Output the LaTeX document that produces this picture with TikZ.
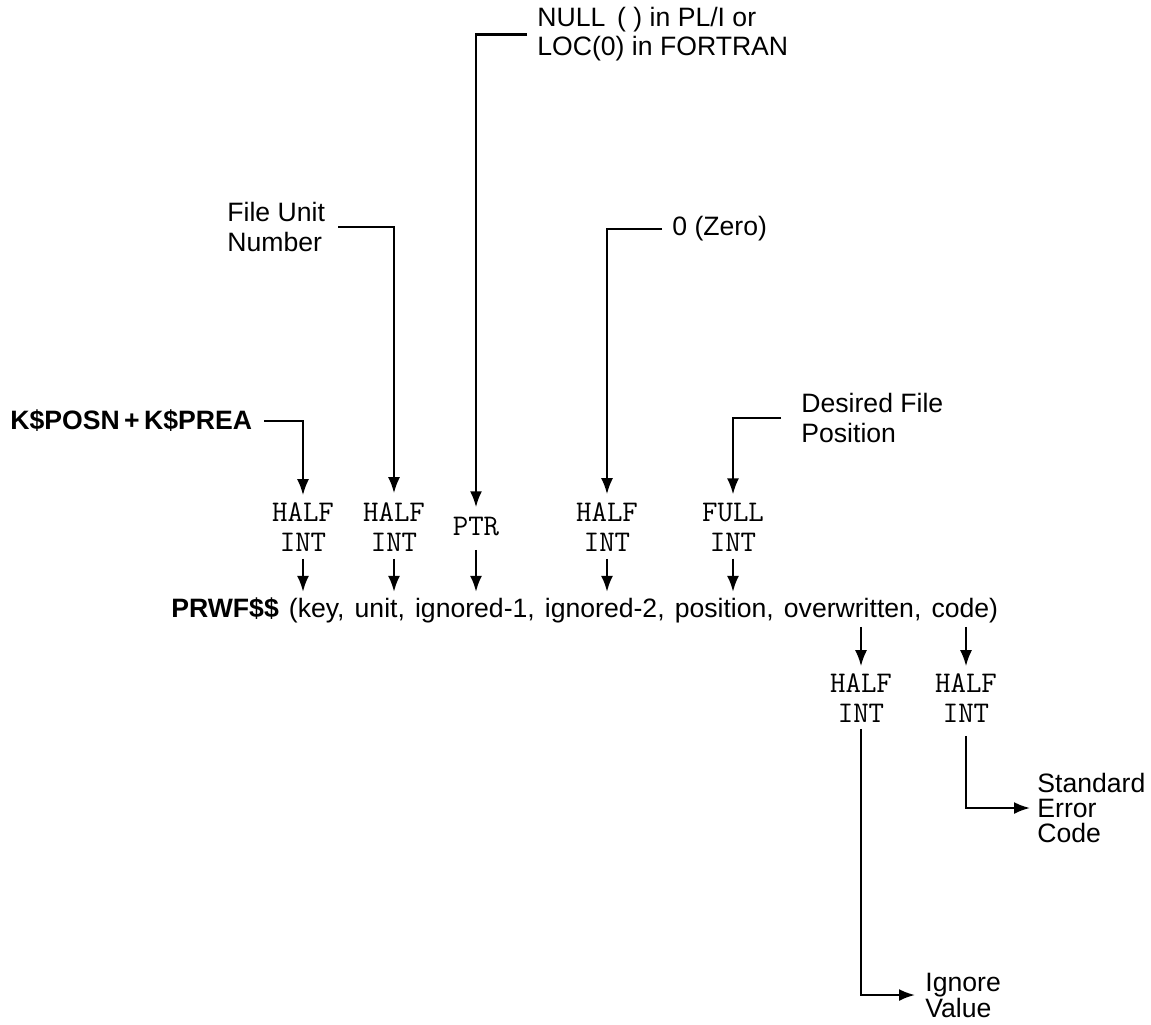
\documentclass[tikz,border=0pt]{standalone}
\usepackage{fontspec}
\setmainfont{Liberation Sans}
\usetikzlibrary{arrows.meta}
\begin{document}
\begin{tikzpicture}[x=0.5pt,y=-0.5pt,
  sans/.style={inner sep=0pt, align=left, font=\fontsize{13.3}{15}\selectfont},
  tt/.style={inner sep=0pt, align=center, font=\ttfamily\fontsize{15}{15}\selectfont},
  link/.style={line width=1.1pt, -{Latex[length=8pt,width=6pt]}},
  small/.style={link, shorten <=3.5pt, shorten >=2.5pt}]
\useasboundingbox (0,0) rectangle (1151,1024);
% labels above
\node[sans, anchor=base west] (kp) at (10,429.5) {\bfseries K\$POSN\,+\,K\$PREA};
\node[sans, anchor=west] (fun) at (227,227) {File Unit\\Number};
\node[sans, anchor=west, font=\fontsize{13.3}{14.5}\selectfont] (nul) at (537,34.5) {NULL \,( ) in PL/I or\\LOC(0) in FORTRAN};
\node[sans, anchor=west] (zer) at (672,229) {0 (Zero)};
\node[sans, anchor=west] (des) at (801,418) {Desired File\\Position};
% type nodes
\node[tt] (h1) at (303,527) {HALF\\INT};
\node[tt] (h2) at (394,527) {HALF\\INT};
\node[tt] (p3) at (476,527) {PTR};
\node[tt] (h4) at (607,527) {HALF\\INT};
\node[tt] (f5) at (733,527) {FULL\\INT};
% main call
\node[sans, anchor=base west] (m) at (171,617) {\spaceskip=0.38em\textbf{PRWF\$\$} (key, unit, ignored-1, ignored-2, position, overwritten, code)};
% outputs
\node[tt] (o6) at (861,698) {HALF\\INT};
\node[tt] (o7) at (966,698) {HALF\\INT};
\node[sans, anchor=west, font=\fontsize{13.3}{12.5}\selectfont] (std) at (1037,808) {Standard\\Error\\Code};
\node[sans, anchor=west, font=\fontsize{13.3}{13}\selectfont] (ign) at (925,995) {Ignore\\Value};
% input connectors
\draw[link, shorten <=6pt, shorten >=3.5pt] (kp.east) -| (h1.north);
\draw[link, shorten <=6.5pt, shorten >=4.5pt] (fun.east) -| (h2.north);
\draw[link, shorten <=5pt, shorten >=5pt] (nul.west) -| (p3.north);
\draw[link, shorten <=5pt, shorten >=4pt] (zer.west) -| (h4.north);
\draw[link, shorten <=10pt, shorten >=4pt] (des.west) -| (f5.north);
% short arrows into the call
\draw[small] (h1.south) -- (h1.south |- m.north);
\draw[small] (h2.south) -- (h2.south |- m.north);
\draw[small, shorten <=6.5pt] (p3.south) -- (p3.south |- m.north);
\draw[small] (h4.south) -- (h4.south |- m.north);
\draw[small] (f5.south) -- (f5.south |- m.north);
% arrows out of the call
\draw[link, shorten <=2pt, shorten >=3.5pt] (m.south -| o6.north) -- (o6.north);
\draw[link, shorten <=2pt, shorten >=3.5pt] (m.south -| o7.north) -- (o7.north);
\draw[link, shorten <=3pt, shorten >=5pt] (o6.south) |- (ign.west);
\draw[link, shorten <=6.5pt, shorten >=3.5pt] (o7.south) |- (std.west);
\end{tikzpicture}
\end{document}
